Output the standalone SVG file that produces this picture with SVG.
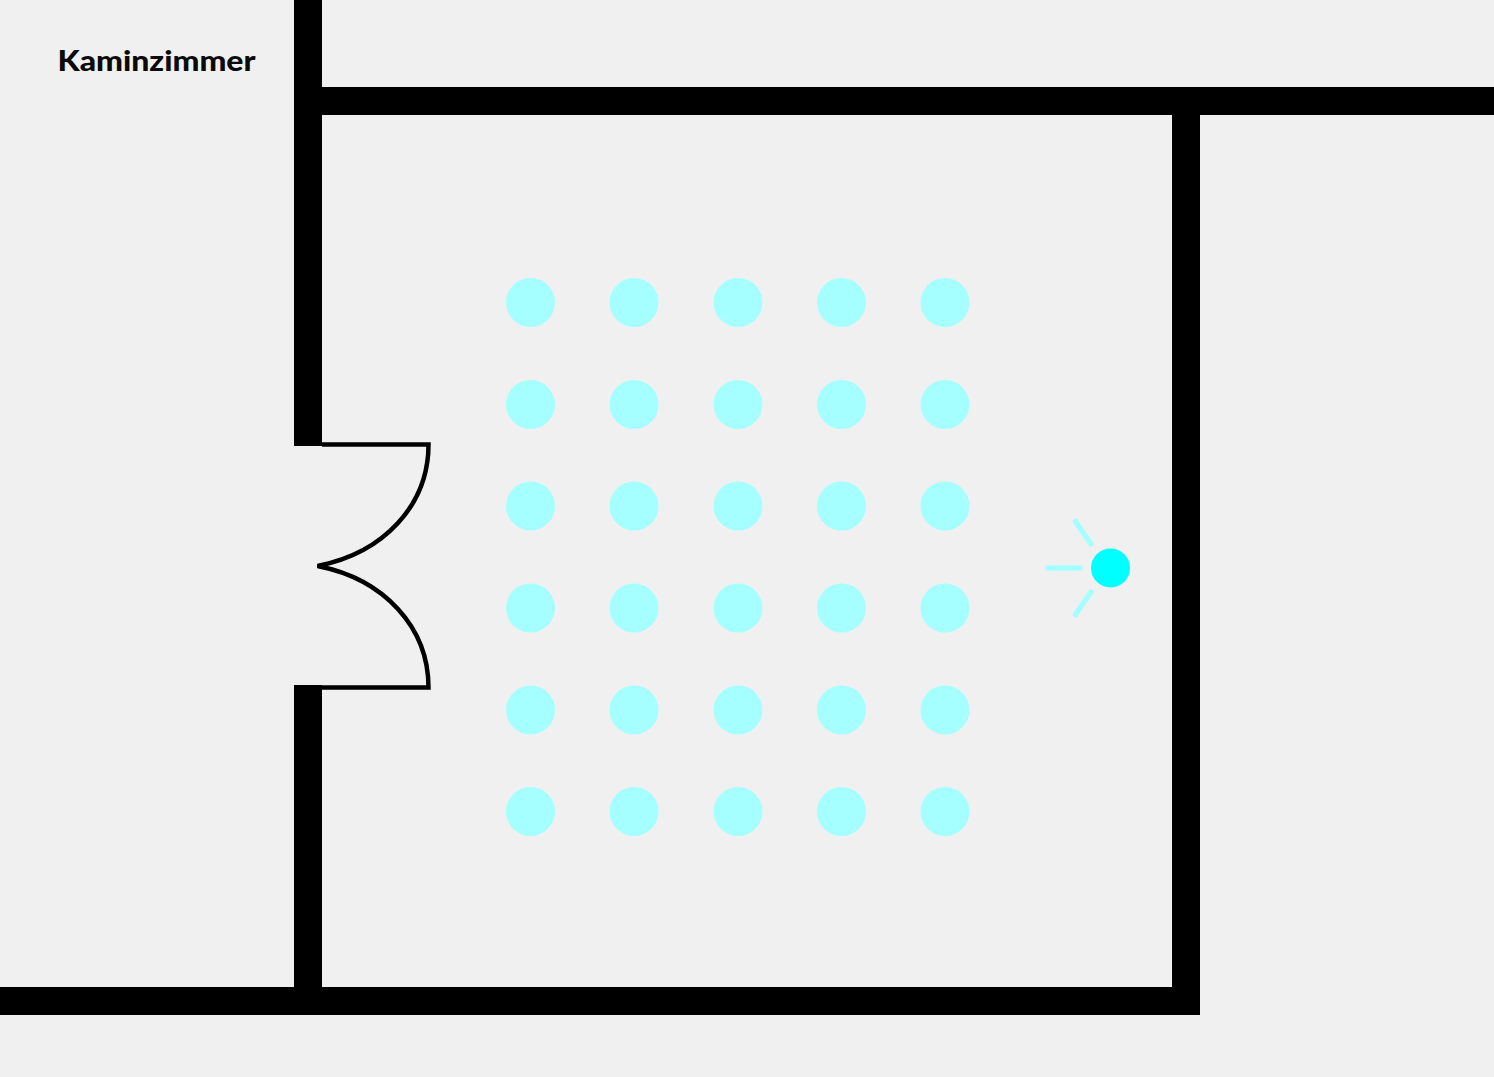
<svg xmlns="http://www.w3.org/2000/svg" width="1494" height="1077" viewBox="0 0 1494 1077">
<style>
.wall{fill:#000}
.seat{fill:#a6ffff}
.ray{stroke:#a6ffff;stroke-width:5.500;stroke-linecap:round;fill:none}
.door{fill:none;stroke:#000;stroke-width:4.500;stroke-linejoin:miter;stroke-miterlimit:4}
.label{font-family:"Lato","Liberation Sans",sans-serif;font-weight:900;font-size:29px;fill:#0a0a0a}
</style>
<rect width="1494" height="1077" fill="#f0f0f0"/>
<g id="walls">
<rect class="wall" x="294" y="0" width="28" height="446"/>
<rect class="wall" x="294" y="685" width="28" height="330"/>
<rect class="wall" x="322" y="87" width="1172" height="28"/>
<rect class="wall" x="1172" y="115" width="28" height="900"/>
<rect class="wall" x="0" y="987" width="1200" height="28"/>
</g>
<g id="door">
<path class="door" d="M322 444.500H428.500C428.500 505 384 553 317.500 566C384 579 428.500 627 428.500 687.500H322"/>
</g>
<g id="seats">
<circle class="seat" cx="530.500" cy="302.500" r="24.500"/><circle class="seat" cx="634" cy="302.500" r="24.500"/><circle class="seat" cx="738" cy="302.500" r="24.500"/><circle class="seat" cx="841.500" cy="302.500" r="24.500"/><circle class="seat" cx="945" cy="302.500" r="24.500"/>
<circle class="seat" cx="530.500" cy="404.500" r="24.500"/><circle class="seat" cx="634" cy="404.500" r="24.500"/><circle class="seat" cx="738" cy="404.500" r="24.500"/><circle class="seat" cx="841.500" cy="404.500" r="24.500"/><circle class="seat" cx="945" cy="404.500" r="24.500"/>
<circle class="seat" cx="530.500" cy="506" r="24.500"/><circle class="seat" cx="634" cy="506" r="24.500"/><circle class="seat" cx="738" cy="506" r="24.500"/><circle class="seat" cx="841.500" cy="506" r="24.500"/><circle class="seat" cx="945" cy="506" r="24.500"/>
<circle class="seat" cx="530.500" cy="608" r="24.500"/><circle class="seat" cx="634" cy="608" r="24.500"/><circle class="seat" cx="738" cy="608" r="24.500"/><circle class="seat" cx="841.500" cy="608" r="24.500"/><circle class="seat" cx="945" cy="608" r="24.500"/>
<circle class="seat" cx="530.500" cy="710" r="24.500"/><circle class="seat" cx="634" cy="710" r="24.500"/><circle class="seat" cx="738" cy="710" r="24.500"/><circle class="seat" cx="841.500" cy="710" r="24.500"/><circle class="seat" cx="945" cy="710" r="24.500"/>
<circle class="seat" cx="530.500" cy="811.500" r="24.500"/><circle class="seat" cx="634" cy="811.500" r="24.500"/><circle class="seat" cx="738" cy="811.500" r="24.500"/><circle class="seat" cx="841.500" cy="811.500" r="24.500"/><circle class="seat" cx="945" cy="811.500" r="24.500"/>
</g>
<g id="speaker">
<circle cx="1110.500" cy="568" r="19.500" fill="#00ffff"/>
<path class="ray" d="M1048 568H1080M1075.500 521.500L1091 544M1075.500 614.500L1091 592"/>
</g>
<g id="title"><text class="label" x="57.500" y="71" textLength="198" lengthAdjust="spacingAndGlyphs">Kaminzimmer</text></g>
</svg>
